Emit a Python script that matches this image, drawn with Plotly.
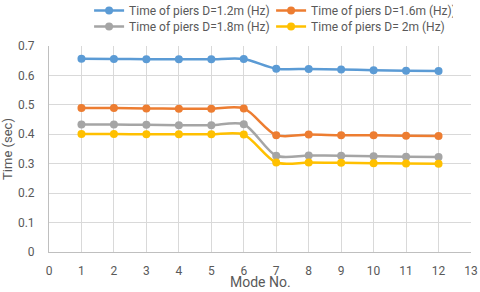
import plotly.graph_objects as go

modes = [1, 2, 3, 4, 5, 6, 7, 8, 9, 10, 11, 12]
d12 = [0.657, 0.656, 0.655, 0.655, 0.655, 0.656, 0.623, 0.622, 0.620, 0.618, 0.616, 0.615]
d16 = [0.489, 0.489, 0.488, 0.487, 0.487, 0.488, 0.397, 0.399, 0.397, 0.397, 0.395, 0.394]
d18 = [0.433, 0.433, 0.432, 0.431, 0.431, 0.434, 0.327, 0.328, 0.327, 0.325, 0.324, 0.323]
d20 = [0.401, 0.401, 0.400, 0.400, 0.400, 0.399, 0.304, 0.304, 0.303, 0.302, 0.301, 0.300]

names = ["Time of piers D=1.2m (Hz)", "Time of piers D=1.6m (Hz))",
         "Time of piers D=1.8m (Hz)", "Time of piers D= 2m (Hz)"]
colors = ["#5B9BD5", "#ED7D31", "#A5A5A5", "#FFC000"]
series = [d12, d16, d18, d20]
legend_rows = ["legend", "legend", "legend2", "legend2"]

FONT = "Roboto, sans-serif"
TXT = "#595959"

fig = go.Figure()
for n, c, s, lg in zip(names, colors, series, legend_rows):
    fig.add_trace(go.Scatter(x=modes, y=s, name=n, mode="lines+markers", legend=lg,
                             line=dict(color=c, width=2.5, shape="spline", smoothing=0.8),
                             marker=dict(color=c, size=8)))

legend_common = dict(orientation="h", x=0.095, xanchor="left", yanchor="middle",
                     yref="container", entrywidth=137, entrywidthmode="pixels",
                     font=dict(size=12, color=TXT), bgcolor="rgba(0,0,0,0)",
                     itemwidth=30)

fig.update_layout(
    template="none",
    width=480, height=292,
    margin=dict(l=49, r=9, t=46, b=40, autoexpand=False),
    paper_bgcolor="white", plot_bgcolor="white",
    hovermode=False,
    font=dict(family=FONT, color=TXT, size=12),
    legend=dict(y=1 - 10.5 / 292, **legend_common),
    legend2=dict(y=1 - 26.5 / 292, **legend_common),
    xaxis=dict(range=[0, 13], dtick=1, tick0=0, showgrid=True, gridcolor="#D9D9D9",
               gridwidth=1, showline=True, linecolor="#BFBFBF", linewidth=1,
               zeroline=False, ticks="", ticklabelstandoff=8, automargin=False,
               tickfont=dict(size=12, color=TXT)),
    yaxis=dict(range=[0, 0.7], dtick=0.1, showgrid=True, gridcolor="#D9D9D9",
               gridwidth=1, showline=True, linecolor="#BFBFBF", linewidth=1,
               zeroline=False, ticks="", tickformat="~g", ticklabelstandoff=11,
               automargin=False,
               tickfont=dict(size=12, color=TXT),
               title=dict(text="Time (sec)", font=dict(size=13, color=TXT), standoff=7)),
    annotations=[dict(text="Mode No.", xref="paper", yref="paper", x=0.5, y=-0.146,
                      xanchor="center", yanchor="middle", showarrow=False,
                      font=dict(size=14, color=TXT))],
)

fig.write_html("out.html", config={"displayModeBar": False},
               post_script="document.body.style.margin='0px';")
